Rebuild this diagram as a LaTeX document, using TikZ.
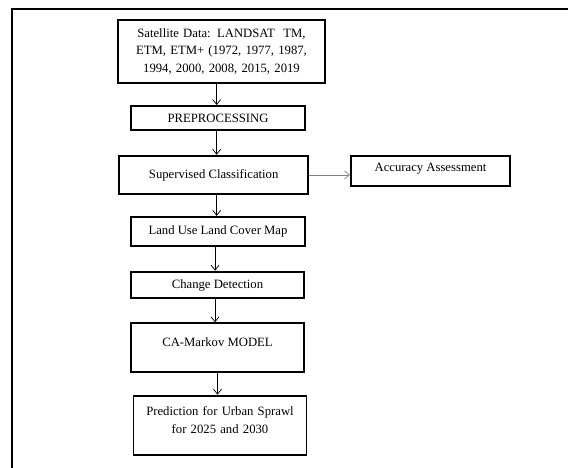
\documentclass[tikz,border=0pt]{standalone}
\usepackage{fontspec}
\setmainfont{Liberation Serif}
\usetikzlibrary{arrows.meta}

\begin{document}
\begin{tikzpicture}[x=1pt, y=-1pt, >={Straight Barb[length=5pt,width=8pt]},
    flowbox/.style={draw, line width=1.9pt, inner sep=0pt, align=center,
        font=\fontsize{12.7}{17.5}\selectfont},
    flowline/.style={->, line width=0.7pt}]
    \useasboundingbox (0,0) rectangle (568,468);

    % outer frame (top and left only)
    \draw[line width=1.5pt] (568,9) -- (12,9) -- (12,468);

    % boxes of the flow chart
    \node[flowbox, minimum width=207pt, minimum height=63pt, text width=200pt] (sat) at (221.5,51.5)
        {Satellite Data: LANDSAT\ \ TM,\\ETM, ETM+ (1972, 1977, 1987,\\1994, 2000, 2008, 2015, 2019};
    \node[flowbox, minimum width=174pt, minimum height=24pt] (prep) at (218,118) {PREPROCESSING};
    \node[flowbox, minimum width=189pt, minimum height=38.5pt] (class) at (213.7,175) {Supervised Classification};
    \node[flowbox, minimum width=159pt, minimum height=30pt, text height=9pt, text depth=7pt] (acc) at (430.5,171) {Accuracy Assessment};
    \node[flowbox, minimum width=174pt, minimum height=29pt] (lulc) at (218,231.3) {Land Use Land Cover Map};
    \node[flowbox, minimum width=173pt, minimum height=26.7pt] (change) at (217.5,285) {Change Detection};
    \node[flowbox, minimum width=173pt, minimum height=49pt, text height=9pt, text depth=12pt] (camarkov) at (217.5,347.8) {CA-Markov MODEL};
    \node[flowbox, minimum width=173pt, minimum height=59.3pt, text width=165pt, text height=9pt, text depth=28pt] (predict) at (220,425.3)
        {Prediction for Urban Sprawl\\for 2025 and 2030};

    % arrows
    \draw[flowline] ([xshift=-4.8pt]sat.south) -- ([xshift=-4.8pt]sat.south |- prep.north);
    \draw[flowline] ([xshift=-1.3pt]prep.south) -- ([xshift=-1.3pt]prep.south |- class.north);
    \draw[flowline] ([xshift=3pt]class.south) -- ([xshift=3pt]class.south |- lulc.north);
    \draw[flowline] ([xshift=-3pt]lulc.south) -- ([xshift=-3pt]lulc.south |- change.north);
    \draw[flowline] ([xshift=-2.5pt]change.south) -- ([xshift=-2.5pt]change.south |- camarkov.north);
    \draw[flowline] (camarkov.south) -- (camarkov.south |- predict.north);
    \draw[flowline, gray] (class.east) -- (class.east -| acc.west);
\end{tikzpicture}
\end{document}
